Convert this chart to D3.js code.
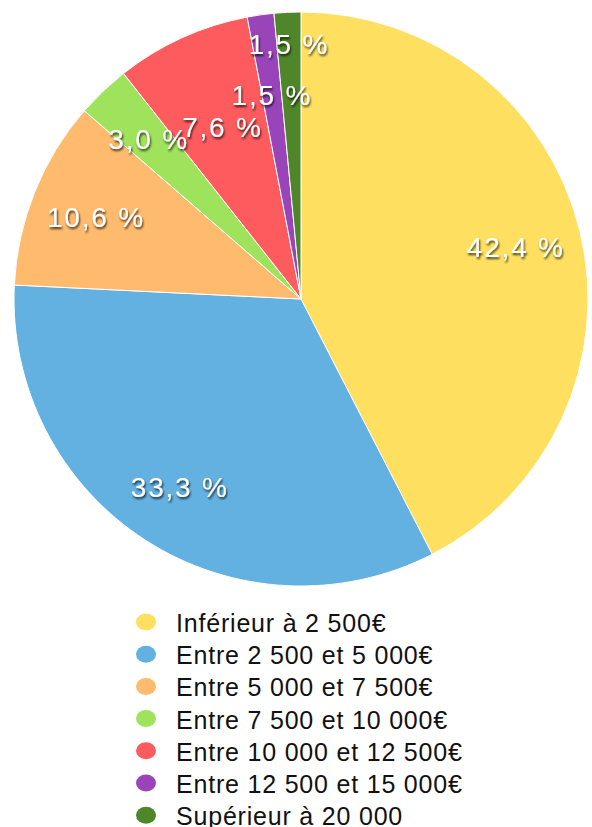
<!DOCTYPE html>
<html>
<head>
<meta charset="utf-8">
<script src="https://cdn.jsdelivr.net/npm/d3@7"></script>
<style>
  html, body { margin: 0; padding: 0; background: #fff; }
  text { font-family: "Liberation Sans", Arial, Helvetica, sans-serif; }
</style>
</head>
<body>
<div id="chart"></div>
<script>
// tranches de revenus, part en %
var categories = [
    "Inférieur à 2 500€",
    "Entre 2 500 et 5 000€",
    "Entre 5 000 et 7 500€",
    "Entre 7 500 et 10 000€",
    "Entre 10 000 et 12 500€",
    "Entre 12 500 et 15 000€",
    "Supérieur à 20 000"
];
var values = [42.4, 33.3, 10.6, 3.0, 7.6, 1.5, 1.5];
var colors = ["#fedf60", "#63b1e0", "#febb6d", "#9fe25b", "#fd5b5d", "#9a44b9", "#4f8629"];

(function() {
    var width = 592,
        height = 827,
        cx = 301,
        cy = 299,
        radius = 287;

    var svg = d3.select("#chart").append("svg")
        .attr("width", width).attr("height", height);

    var defs = svg.append("defs");
    defs.append("filter")
        .attr("id", "shadow")
        .attr("x", "-20%").attr("y", "-20%")
        .attr("width", "140%").attr("height", "160%")
      .append("feDropShadow")
        .attr("dx", 1).attr("dy", 2)
        .attr("stdDeviation", 1.2)
        .attr("flood-color", "#000")
        .attr("flood-opacity", 0.75);

    var pie = d3.pie().sort(null).value(function(d) { return d; });
    var arcs = pie(values);

    var arc = d3.arc().innerRadius(0).outerRadius(radius);

    var g = svg.append("g").attr("transform", "translate(" + cx + "," + cy + ")");

    g.selectAll("path.slice")
        .data(arcs)
      .enter().append("path")
        .attr("class", "slice")
        .attr("d", arc)
        .attr("fill", function(d, i) { return colors[i]; })
        .attr("stroke", "#fff")
        .attr("stroke-width", 1);

    // labels get pushed in/out when slices are thin so they don't overlap
    var labelRadius = [0.77, 0.78, 0.77, 0.77, 0.66, 0.72, 0.89];

    var fmt = function(v) { return d3.format(".1f")(v).replace(".", ",") + " %"; };

    g.selectAll("text.lbl")
        .data(arcs)
      .enter().append("text")
        .attr("class", "lbl")
        .attr("transform", function(d, i) {
            var a = (d.startAngle + d.endAngle) / 2,
                r = radius * labelRadius[i];
            return "translate(" + (Math.sin(a) * r) + "," + (-Math.cos(a) * r) + ")";
        })
        .attr("text-anchor", "middle")
        .attr("dy", "0.36em")
        .attr("fill", "#fff")
        .attr("font-size", 28)
        .attr("letter-spacing", 1.8)
        .attr("filter", "url(#shadow)")
        .text(function(d) { return fmt(d.data); });

    // legend
    var legend = svg.append("g").attr("transform", "translate(146,622)");
    var rows = legend.selectAll("g")
        .data(categories)
      .enter().append("g")
        .attr("transform", function(d, i) { return "translate(0," + (i * 32.2) + ")"; });

    rows.append("ellipse")
        .attr("rx", 10).attr("ry", 8.5)
        .attr("fill", function(d, i) { return colors[i]; });

    rows.append("text")
        .attr("x", 30)
        .attr("y", 10)
        .attr("font-size", 25)
        .attr("letter-spacing", 0.8)
        .attr("fill", "#111")
        .text(function(d) { return d; });
})();
</script>
</body>
</html>
